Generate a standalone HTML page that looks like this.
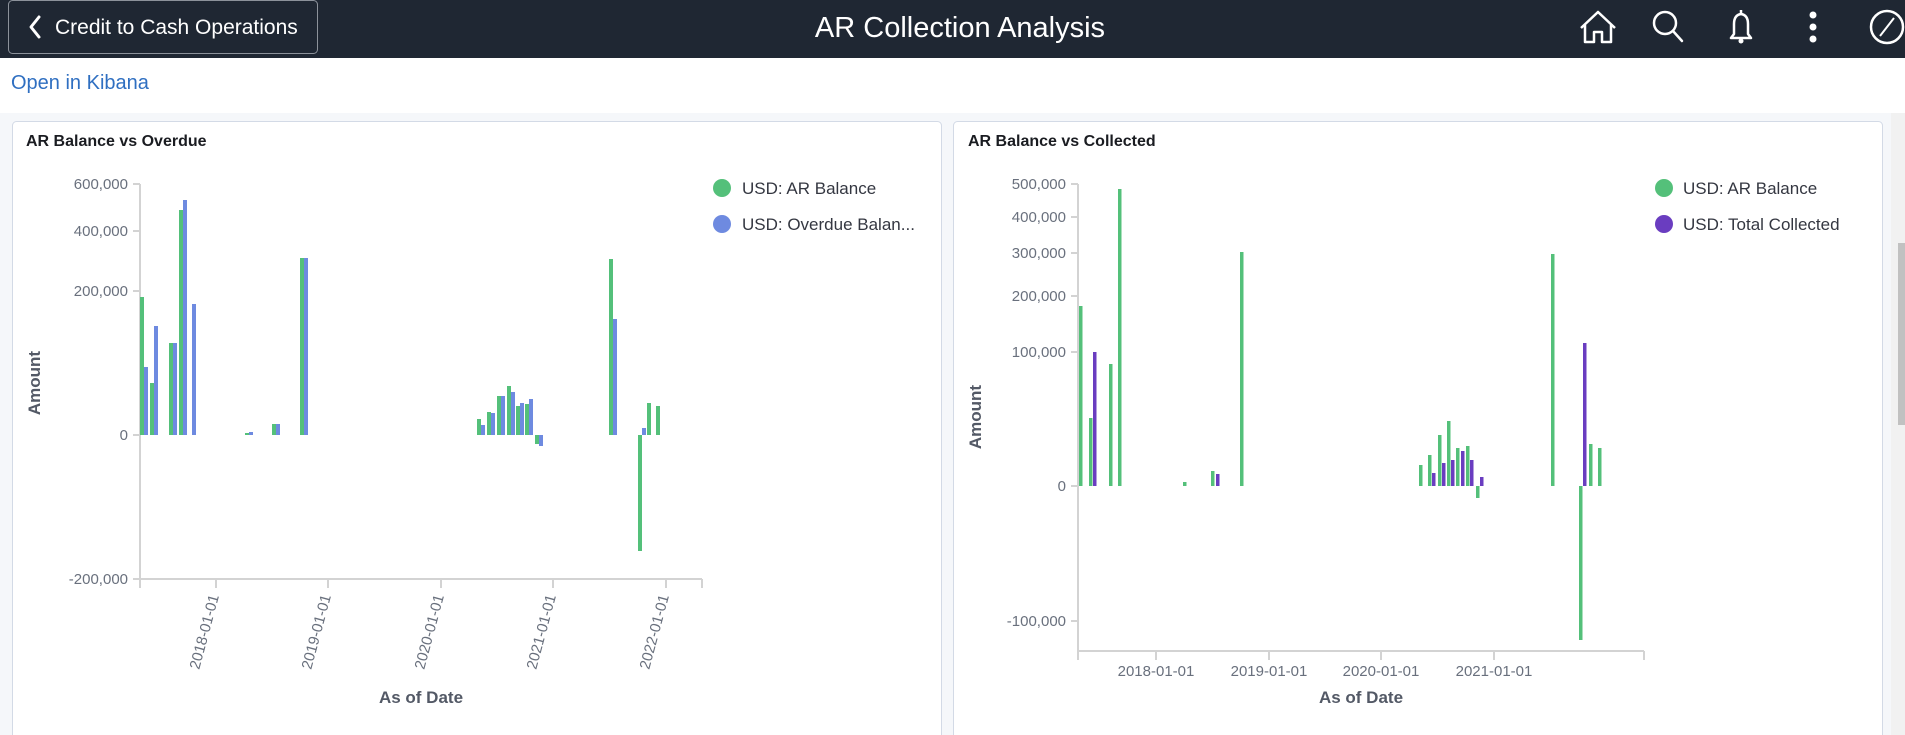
<!DOCTYPE html>
<html><head><meta charset="utf-8"><style>
html,body{margin:0;padding:0;width:1905px;height:735px;overflow:hidden;background:#fff}
svg{display:block}
text{font-family:"Liberation Sans",Arial,sans-serif}
</style></head><body>
<svg width="1905" height="735" viewBox="0 0 1905 735" xmlns="http://www.w3.org/2000/svg">
<!-- header -->
<rect x="0" y="0" width="1905" height="58" fill="#1f2733"/>
<rect x="8.5" y="0.5" width="309" height="53" rx="4" fill="#1f2733" stroke="#8c929b"/>
<path d="M39 17 L31 27 L39 37" fill="none" stroke="#fff" stroke-width="3" stroke-linecap="round" stroke-linejoin="round"/>
<text x="55" y="34" font-size="21" fill="#fff">Credit to Cash Operations</text>
<text x="960" y="37" font-size="29" fill="#fff" text-anchor="middle">AR Collection Analysis</text>
<!-- icons -->
<g fill="none" stroke="#fff" stroke-width="2.5" stroke-linejoin="round">
<path d="M1581 28 L1598 12 L1615 28 M1585 25 V42 H1594 V32 H1602 V42 H1611 V25"/>
<circle cx="1665" cy="23" r="11"/><path d="M1673 31 L1682 41" stroke-linecap="round"/>
<path d="M1731 38 H1751 L1748 34 V24 Q1748 15 1741 14 Q1734 15 1734 24 V34 Z M1741 10 V14"/>
<circle cx="1887" cy="27" r="16"/><path d="M1880 36 L1894 18" stroke-width="2"/>
</g>
<circle cx="1741" cy="41" r="2.5" fill="#fff"/>
<circle cx="1813" cy="15" r="3.5" fill="#fff"/><circle cx="1813" cy="27" r="3.5" fill="#fff"/><circle cx="1813" cy="39" r="3.5" fill="#fff"/>
<!-- link -->
<text x="11" y="89" font-size="20" fill="#2f6fc1">Open in Kibana</text>
<!-- content bg -->
<rect x="0" y="113" width="1905" height="622" fill="#f5f7fa"/>
<rect x="1891" y="113" width="14" height="622" fill="#f1f1f1"/>
<rect x="1898" y="243" width="7" height="182" fill="#c1c1c1"/>
<!-- panels -->
<rect x="12.5" y="121.5" width="929" height="640" rx="4" fill="#fff" stroke="#d3dae6"/>
<rect x="953.5" y="121.5" width="929" height="640" rx="4" fill="#fff" stroke="#d3dae6"/>

<!-- LEFT CHART -->
<text x="26" y="146" font-size="16" font-weight="bold" fill="#1a1c21">AR Balance vs Overdue</text>
<g stroke="#d3d3d3" stroke-width="2" fill="none">
<path d="M140 184 V579 H702"/>
<path d="M133 184 H140 M133 231 H140 M133 291 H140 M133 435 H140 M133 579 H140"/>
<path d="M140 579 V588 M216 579 V588 M328 579 V588 M441 579 V588 M553 579 V588 M666 579 V588 M702 579 V588"/>
</g>
<g font-size="15" fill="#69707d" text-anchor="end">
<text x="128" y="189">600,000</text><text x="128" y="236">400,000</text><text x="128" y="296">200,000</text><text x="128" y="440">0</text><text x="128" y="584">-200,000</text>
</g>
<g font-size="15" fill="#69707d" text-anchor="end">
<text transform="translate(219,596) rotate(-75)">2018-01-01</text>
<text transform="translate(331,596) rotate(-75)">2019-01-01</text>
<text transform="translate(444,596) rotate(-75)">2020-01-01</text>
<text transform="translate(556,596) rotate(-75)">2021-01-01</text>
<text transform="translate(669,596) rotate(-75)">2022-01-01</text>
</g>
<text x="421" y="703" font-size="17" font-weight="bold" fill="#535966" text-anchor="middle">As of Date</text>
<text transform="translate(40,383) rotate(-90)" font-size="17" font-weight="bold" fill="#535966" text-anchor="middle">Amount</text>
<circle cx="722" cy="188" r="9" fill="#54c07a"/><text x="742" y="194" font-size="17" fill="#343741">USD: AR Balance</text>
<circle cx="722" cy="224" r="9" fill="#6e8ae0"/><text x="742" y="230" font-size="17" fill="#343741">USD: Overdue Balan...</text>
<g fill="#54c07a">
<rect x="140" y="297" width="4" height="138"/>
<rect x="150" y="383" width="4" height="52"/>
<rect x="169" y="343" width="4" height="92"/>
<rect x="179" y="210" width="4" height="225"/>
<rect x="245" y="433" width="4" height="2"/>
<rect x="272" y="424" width="4" height="11"/>
<rect x="300" y="258" width="4" height="177"/>
<rect x="477" y="419" width="4" height="16"/>
<rect x="487" y="412" width="4" height="23"/>
<rect x="497" y="396" width="4" height="39"/>
<rect x="507" y="386" width="4" height="49"/>
<rect x="516" y="406" width="4" height="29"/>
<rect x="525" y="404" width="4" height="31"/>
<rect x="535" y="435" width="4" height="9"/>
<rect x="609" y="259" width="4" height="176"/>
<rect x="638" y="435" width="4" height="116"/>
<rect x="647" y="403" width="4" height="32"/>
<rect x="656" y="406" width="4" height="29"/>
</g>
<g fill="#6e8ae0">
<rect x="144" y="367" width="4" height="68"/>
<rect x="154" y="326" width="4" height="109"/>
<rect x="173" y="343" width="4" height="92"/>
<rect x="183" y="200" width="4" height="235"/>
<rect x="192" y="304" width="4" height="131"/>
<rect x="249" y="432" width="4" height="3"/>
<rect x="276" y="424" width="4" height="11"/>
<rect x="304" y="258" width="4" height="177"/>
<rect x="481" y="425" width="4" height="10"/>
<rect x="491" y="413" width="4" height="22"/>
<rect x="501" y="396" width="4" height="39"/>
<rect x="511" y="392" width="4" height="43"/>
<rect x="520" y="403" width="4" height="32"/>
<rect x="529" y="399" width="4" height="36"/>
<rect x="539" y="435" width="4" height="11"/>
<rect x="613" y="319" width="4" height="116"/>
<rect x="642" y="428" width="4" height="7"/>
</g>

<!-- RIGHT CHART -->
<text x="968" y="146" font-size="16" font-weight="bold" fill="#1a1c21">AR Balance vs Collected</text>
<g stroke="#d3d3d3" stroke-width="2" fill="none">
<path d="M1078 184 V651 H1644"/>
<path d="M1071 184 H1078 M1071 217 H1078 M1071 253 H1078 M1071 296 H1078 M1071 352 H1078 M1071 486 H1078 M1071 621 H1078"/>
<path d="M1078 651 V660 M1156 651 V660 M1269 651 V660 M1381 651 V660 M1494 651 V660 M1644 651 V660"/>
</g>
<g font-size="15" fill="#69707d" text-anchor="end">
<text x="1066" y="189">500,000</text><text x="1066" y="222">400,000</text><text x="1066" y="258">300,000</text><text x="1066" y="301">200,000</text><text x="1066" y="357">100,000</text><text x="1066" y="491">0</text><text x="1066" y="626">-100,000</text>
</g>
<g font-size="15" fill="#69707d" text-anchor="middle">
<text x="1156" y="676">2018-01-01</text><text x="1269" y="676">2019-01-01</text><text x="1381" y="676">2020-01-01</text><text x="1494" y="676">2021-01-01</text>
</g>
<text x="1361" y="703" font-size="17" font-weight="bold" fill="#535966" text-anchor="middle">As of Date</text>
<text transform="translate(981,417) rotate(-90)" font-size="17" font-weight="bold" fill="#535966" text-anchor="middle">Amount</text>
<circle cx="1664" cy="188" r="9" fill="#54c07a"/><text x="1683" y="194" font-size="17" fill="#343741">USD: AR Balance</text>
<circle cx="1664" cy="224" r="9" fill="#6a3dc0"/><text x="1683" y="230" font-size="17" fill="#343741">USD: Total Collected</text>
<g fill="#54c07a">
<rect x="1079" y="306" width="3.5" height="180"/>
<rect x="1089" y="418" width="3.5" height="68"/>
<rect x="1109" y="364" width="3.5" height="122"/>
<rect x="1118" y="189" width="3.5" height="297"/>
<rect x="1183" y="482" width="3.5" height="4"/>
<rect x="1211" y="471" width="3.5" height="15"/>
<rect x="1240" y="252" width="3.5" height="234"/>
<rect x="1419" y="465" width="3.5" height="21"/>
<rect x="1428" y="455" width="3.5" height="31"/>
<rect x="1438" y="435" width="3.5" height="51"/>
<rect x="1447" y="421" width="3.5" height="65"/>
<rect x="1456" y="448" width="3.5" height="38"/>
<rect x="1466" y="446" width="3.5" height="40"/>
<rect x="1476" y="486" width="3.5" height="12"/>
<rect x="1551" y="254" width="3.5" height="232"/>
<rect x="1579" y="486" width="3.5" height="154"/>
<rect x="1589" y="444" width="3.5" height="42"/>
<rect x="1598" y="448" width="3.5" height="38"/>
</g>
<g fill="#6a3dc0">
<rect x="1093" y="352" width="3.5" height="134"/>
<rect x="1216" y="474" width="3.5" height="12"/>
<rect x="1432" y="473" width="3.5" height="13"/>
<rect x="1442" y="463" width="3.5" height="23"/>
<rect x="1451" y="460" width="3.5" height="26"/>
<rect x="1461" y="451" width="3.5" height="35"/>
<rect x="1470" y="460" width="3.5" height="26"/>
<rect x="1480" y="477" width="3.5" height="9"/>
<rect x="1583" y="343" width="3.5" height="143"/>
</g>
</svg>
</body></html>
